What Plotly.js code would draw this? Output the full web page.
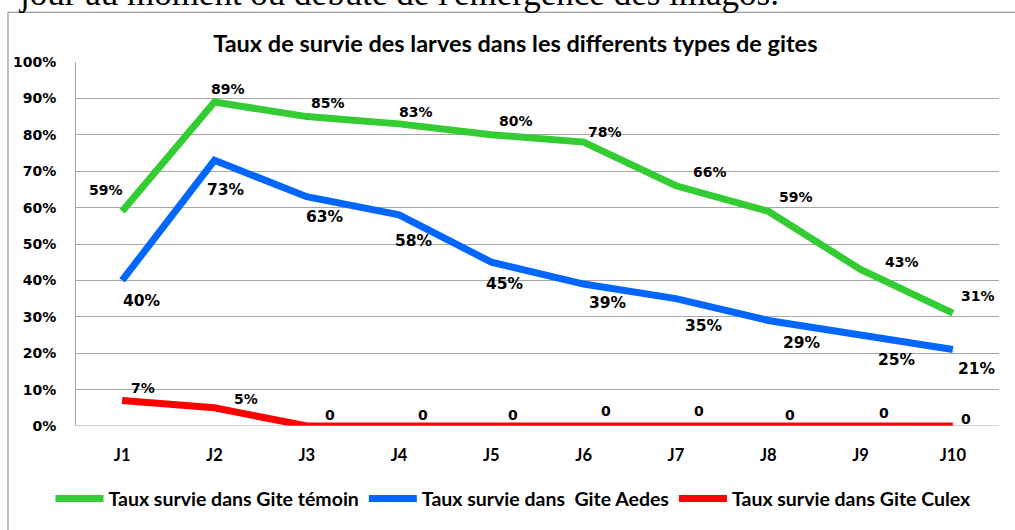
<!DOCTYPE html>
<html>
<head>
<meta charset="utf-8">
<script src="https://cdn.plot.ly/plotly-3.0.1.min.js"></script>
<style>html,body{margin:0;padding:0;background:#fff;}#chart{width:1015px;height:530px;}</style>
</head>
<body>
<div id="chart"></div>
<script>
const categories = ['J1','J2','J3','J4','J5','J6','J7','J8','J9','J10'];
const temoin = [0.59,0.89,0.85,0.83,0.80,0.78,0.66,0.59,0.43,0.31];
const aedes  = [0.40,0.73,0.63,0.58,0.45,0.39,0.35,0.29,0.25,0.21];
const culex  = [0.07,0.05,0,0,0,0,0,0,0,0];
const temoinLabels = ['59%','89%','85%','83%','80%','78%','66%','59%','43%','31%'];
const aedesLabels  = ['40%','73%','63%','58%','45%','39%','35%','29%','25%','21%'];
const culexLabels  = ['7%','5%','0','0','0','0','0','0','0','0'];
const seriesNames = ['Taux survie dans Gite témoin','Taux survie dans  Gite Aedes','Taux survie dans Gite Culex'];

// label pixel offsets [dx, dy(down)]
const temoinOff = [[-16,-21],[14,-13],[21,-14],[17,-12],[25,-14],[21,-10],[34,-14],[28,-14],[41,-7],[25,-17]];
const aedesOff  = [[20,21],[12,30],[18,20],[15,26],[14,22],[24,19],[28,27],[34,23],[36,25],[24,19]];
const culexOff  = [[21,-13],[32,-9],[23,-11],[24,-11],[22,-11],[22,-15],[23,-15],[22,-11],[23,-13],[13,-7]];

const humanist = 'Lato, "Open Sans", sans-serif';
const dejavu = '"DejaVu Sans", Verdana, sans-serif';

function mk(y, name, color){
  return {x: categories, y: y, name: name, type:'scatter', mode:'lines',
    line:{color:color, width:7}, hoverinfo:'skip'};
}
const traces = [mk(temoin, seriesNames[0], '#33CC33'), mk(aedes, seriesNames[1], '#0066FF'), mk(culex, seriesNames[2], '#FF0000')];

const annotations = [];
function addLabels(vals, labels, offs, size){
  vals.forEach((v,i)=>{
    annotations.push({x: categories[i], y: v, xref:'x', yref:'y', text: labels[i], showarrow:false,
      xshift: offs[i][0], yshift: -offs[i][1], font:{family: dejavu, size: size, color:'#000', weight:'bold'}});
  });
}
addLabels(temoin, temoinLabels, temoinOff, 14);
addLabels(aedes, aedesLabels, aedesOff, 15.5);
addLabels(culex, culexLabels, culexOff, 14);

annotations.push({xref:'paper', yref:'paper', x:-0.065, y:1.13, xanchor:'left', yanchor:'bottom',
  text:"jour au moment où débute de l'émergence des imagos.", showarrow:false,
  font:{family:'"Liberation Serif", "Times New Roman", serif', size:35, color:'#000'}});

const layout = {
  width:1015, height:530,
  margin:{l:76, r:16, t:62, b:102},
  paper_bgcolor:'#fff', plot_bgcolor:'#fff',
  title:{text:'Taux de survie des larves dans les differents types de gites', x:0.476, xref:'paper', xanchor:'center', y:0.917, yanchor:'middle',
    font:{family: humanist, size:23.5, color:'#000', weight:'bold'}},
  xaxis:{type:'category', range:[-0.5,9.5], showgrid:false, showline:false, zeroline:false,
    ticks:'outside', ticklen:14, tickcolor:'rgba(0,0,0,0)',
    tickfont:{family: humanist, size:16.5, color:'#000', weight:'bold'}, fixedrange:true},
  yaxis:{range:[0,1], dtick:0.1, tickformat:'.0%', showgrid:true, gridcolor:'#A6A6A6', gridwidth:1,
    showline:true, linecolor:'#A6A6A6', linewidth:1, zeroline:false,
    ticks:'outside', ticklen:16, tickcolor:'rgba(0,0,0,0)',
    tickfont:{family: dejavu, size:14, color:'#000', weight:'bold'}, fixedrange:true},
  showlegend:true,
  legend:{orientation:'h', x:0.474, xanchor:'center', y:-0.2, yanchor:'middle',
    font:{family: humanist, size:19.5, color:'#000', weight:'bold'}, itemwidth:48, tracegroupgap:0},
  shapes:[
    {type:'line', xref:'paper', yref:'paper', x0:-0.0737, x1:1.02, y0:1.1366, y1:1.1366, line:{color:'#7F7F7F', width:1}},
    {type:'line', xref:'paper', yref:'paper', x0:-0.0737, x1:-0.0737, y0:1.1366, y1:-0.3, line:{color:'#7F7F7F', width:1}},
    {type:'line', xref:'paper', yref:'y', x0:0, x1:1, y0:0, y1:0, line:{color:'#A6A6A6', width:1}}
  ],
  annotations: annotations
};
Plotly.newPlot('chart', traces, layout, {displayModeBar:false, staticPlot:true});
</script>
</body>
</html>
